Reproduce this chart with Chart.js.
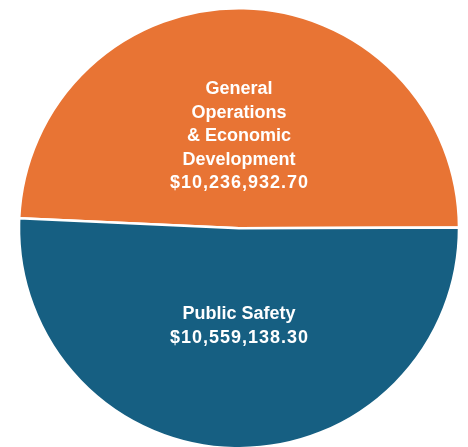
<!DOCTYPE html>
<html>
<head>
<meta charset="utf-8">
<script src="https://cdn.jsdelivr.net/npm/chart.js@4.4.1/dist/chart.umd.min.js"></script>
<style>
  html, body { margin: 0; padding: 0; background: #ffffff; overflow: hidden; }
  #wrap { width: 468px; height: 447px; overflow: hidden; }
</style>
</head>
<body>
<div id="wrap"><canvas id="c" width="468" height="452"></canvas></div>
<script>
const categories = ["General Operations & Economic Development", "Public Safety"];
const labelLines = [["General", "Operations", "& Economic", "Development"], ["Public Safety"]];
const values = [10236932.70, 10559138.30];
const colors = ["#E87434", "#165F82"];
const labelOffsets = [-0.418, 0.445]; // vertical position of label block, as fraction of radius

function money(v) {
  return "$" + v.toLocaleString("en-US", { minimumFractionDigits: 2, maximumFractionDigits: 2 });
}

const labelPlugin = {
  id: "sliceLabels",
  afterDatasetsDraw(chart) {
    const ctx = chart.ctx;
    const meta = chart.getDatasetMeta(0);
    ctx.save();
    ctx.fillStyle = "#ffffff";
    ctx.font = "bold 18px 'Liberation Sans', Arial, sans-serif";
    ctx.textAlign = "center";
    ctx.textBaseline = "middle";
    const lh = 23.5;
    meta.data.forEach((arc, i) => {
      const lines = labelLines[i].concat([money(values[i])]);
      const cy = arc.y + labelOffsets[i] * arc.outerRadius;
      const y0 = cy - (lines.length - 1) * lh / 2;
      lines.forEach((t, k) => {
        const isValue = k === lines.length - 1;
        ctx.letterSpacing = isValue ? "1px" : "0px";
        ctx.fillText(t, arc.x + (isValue ? 0.5 : 0), y0 + k * lh);
      });
    });
    ctx.restore();
  }
};

new Chart(document.getElementById("c"), {
  type: "pie",
  data: {
    labels: categories,
    datasets: [{
      data: values,
      backgroundColor: colors,
      borderColor: "#ffffff",
      borderWidth: 2.5
    }]
  },
  options: {
    responsive: false,
    animation: false,
    rotation: -87.4,
    layout: { padding: { top: 7, bottom: 2.5, left: 10, right: 0 } },
    plugins: {
      legend: { display: false },
      tooltip: { enabled: false }
    }
  },
  plugins: [labelPlugin]
});
</script>
</body>
</html>
